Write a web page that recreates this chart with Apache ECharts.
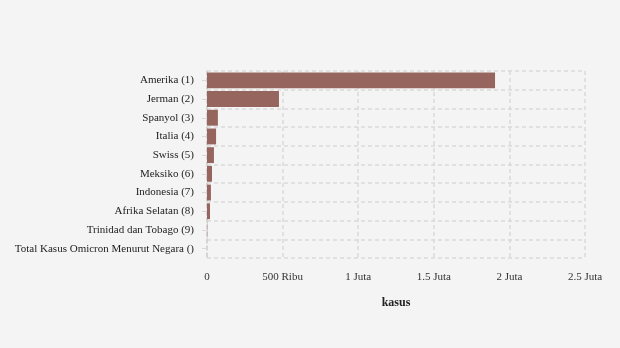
<!DOCTYPE html>
<html>
<head>
<meta charset="utf-8">
<script src="https://cdn.jsdelivr.net/npm/echarts@6/dist/echarts.min.js"></script>
<style>
  html, body { margin: 0; padding: 0; background: #f4f4f4; }
  #chart { width: 620px; height: 348px; }
</style>
</head>
<body>
<div id="chart"></div>
<script>
// Countries, ranked by Omicron case count
const countries = [
  'Amerika (1)', 'Jerman (2)', 'Spanyol (3)', 'Italia (4)', 'Swiss (5)',
  'Meksiko (6)', 'Indonesia (7)', 'Afrika Selatan (8)', 'Trinidad dan Tobago (9)',
  'Total Kasus Omicron Menurut Negara ()'
];
// Case counts per country
const cases = [1905000, 476000, 72000, 60000, 46000, 33000, 26000, 20000, 1500, 0];
// X-axis tick labels (values in cases)
const tickValues = [0, 500000, 1000000, 1500000, 2000000, 2500000];
const tickLabels = ['0', '500 Ribu', '1 Juta', '1.5 Juta', '2 Juta', '2.5 Juta'];

const font = '"Liberation Serif", "Times New Roman", serif';
const gridLine = { show: true, lineStyle: { color: '#d9d9d9', type: [4, 3], width: 1.5 } };

const chart = echarts.init(document.getElementById('chart'), null, { renderer: 'canvas' });
chart.setOption({
  backgroundColor: '#f4f4f4',
  animation: false,
  grid: { left: 207, right: 35, top: 71, bottom: 90 },
  xAxis: {
    type: 'value',
    min: 0, max: 2500000, interval: 500000,
    name: 'kasus',
    nameLocation: 'middle',
    nameGap: 39,
    nameTextStyle: { fontFamily: font, fontSize: 12, fontWeight: 'bold', color: '#222' },
    axisLine: { show: false },
    axisTick: { show: false },
    axisLabel: {
      fontFamily: font, fontSize: 11, color: '#333', margin: 14,
      formatter: v => tickLabels[tickValues.indexOf(v)] ?? ''
    },
    splitLine: gridLine
  },
  yAxis: {
    type: 'category',
    inverse: true,
    data: countries,
    axisLine: { show: true, lineStyle: { color: '#cfcfcf', type: [4, 3], width: 1.5 } },
    axisTick: { show: true, alignWithLabel: true, length: 5, lineStyle: { color: '#d9d9d9' } },
    axisLabel: { fontFamily: font, fontSize: 11, color: '#222', margin: 13, padding: [2, 0, 0, 0] },
    splitLine: gridLine
  },
  series: [{
    type: 'bar',
    data: cases,
    barCategoryGap: '15%',
    itemStyle: { color: '#96665e' }
  }]
});
</script>
</body>
</html>
